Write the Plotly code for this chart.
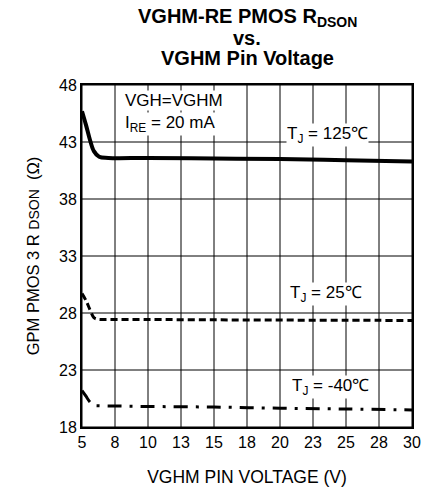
import plotly.graph_objects as go

# VGHM pin voltage (V)
v_pin = [5.0, 5.3, 5.6, 5.9, 6.3, 7.0, 10.0, 15.0, 20.0, 25.0, 30.0]
v_pin_low = [5.0, 5.3, 5.6, 5.9, 6.2, 7.0, 10.0, 15.0, 20.0, 25.0, 30.0]

# RDSON (ohm) per junction temperature
rdson_125c = [45.7, 44.5, 43.2, 42.2, 41.7, 41.6, 41.6, 41.55, 41.5, 41.4, 41.3]
rdson_25c = [29.7, 29.1, 28.3, 27.6, 27.45, 27.44, 27.43, 27.4, 27.38, 27.36, 27.35]
rdson_m40c = [21.2, 20.7, 20.2, 19.9, 19.86, 19.85, 19.8, 19.75, 19.65, 19.58, 19.5]

x_ticks = [5, 7.5, 10, 12.5, 15, 17.5, 20, 22.5, 25, 27.5, 30]
x_tick_labels = ["5", "8", "10", "13", "15", "18", "20", "23", "25", "28", "30"]
y_ticks = [18, 23, 28, 33, 38, 43, 48]

FONT = "Arial, Liberation Sans, sans-serif"

fig = go.Figure()

# grid drawn as shapes under the curves
for xv in x_ticks:
    fig.add_shape(type="line", xref="x", yref="paper", x0=xv, x1=xv, y0=0, y1=1,
                  line=dict(color="black", width=1), layer="below")
for yv in y_ticks:
    fig.add_shape(type="line", xref="paper", yref="y", x0=0, x1=1, y0=yv, y1=yv,
                  line=dict(color="black", width=1), layer="below")

fig.add_trace(go.Scatter(
    x=v_pin, y=rdson_125c, mode="lines", line_shape="spline",
    line=dict(color="black", width=4), name="TJ = 125C"
))
fig.add_trace(go.Scatter(
    x=v_pin_low, y=rdson_25c, mode="lines", line_shape="spline",
    line=dict(color="black", width=3, dash="7px,4px"), name="TJ = 25C"
))
fig.add_trace(go.Scatter(
    x=v_pin_low, y=rdson_m40c, mode="lines", line_shape="spline",
    line=dict(color="black", width=3, dash="14px,8px,3px,8px"), name="TJ = -40C"
))

# Labels on the plot
notes = [
    dict(x=8.2, y=46.6, text="VGH=VGHM", xanchor="left"),
    dict(x=8.2, y=44.6, text="I<sub>RE</sub> = 20 mA", xanchor="left"),
    dict(x=23.6, y=43.6, text="T<sub>J</sub> = 125\u2103", xanchor="center"),
    dict(x=23.5, y=29.7, text="T<sub>J</sub> = 25\u2103", xanchor="center"),
    dict(x=23.8, y=21.5, text="T<sub>J</sub> = -40\u2103", xanchor="center"),
]
for n in notes:
    fig.add_annotation(
        x=n["x"], y=n["y"], text=n["text"], xanchor=n["xanchor"], yanchor="middle",
        showarrow=False, bgcolor="white", borderpad=0,
        font=dict(family=FONT, size=17, color="black")
    )

# Title, one annotation per line to keep the tight line spacing
title_lines = ["<b>VGHM-RE PMOS R<sub>DSON</sub></b>", "<b>vs.</b>", "<b>VGHM Pin Voltage</b>"]
title_shift = [68, 47, 27]
for txt, dy in zip(title_lines, title_shift):
    fig.add_annotation(
        xref="paper", yref="paper", x=0.5, y=1.0, yshift=dy,
        xanchor="center", yanchor="middle", showarrow=False, text=txt,
        font=dict(family=FONT, size=20, color="black")
    )

fig.update_layout(
    width=433, height=496,
    margin=dict(l=82, r=15, t=85, b=68),
    paper_bgcolor="white", plot_bgcolor="white",
    showlegend=False,
    font=dict(family=FONT, color="black"),
)

fig.update_xaxes(
    range=[5, 30], tickvals=x_ticks, ticktext=x_tick_labels,
    showgrid=False,
    showline=True, linecolor="black", linewidth=2, mirror=True,
    zeroline=False, ticks="", tickfont=dict(size=16),
    title=dict(text="VGHM PIN VOLTAGE (V)", font=dict(size=17.5), standoff=21)
)
fig.update_yaxes(
    range=[18, 48], tickvals=y_ticks,
    showgrid=False,
    showline=True, linecolor="black", linewidth=2, mirror=True,
    zeroline=False, ticks="", tickfont=dict(size=16),
    title=dict(text="GPM PMOS 3 R <span style='font-size:14px'>DSON</span>  (\u03a9)",
               font=dict(size=16.5), standoff=15)
)

fig.write_html(
    "out.html",
    config={"displayModeBar": False},
    post_script="document.body.style.margin='0';document.body.style.overflow='hidden';"
)
